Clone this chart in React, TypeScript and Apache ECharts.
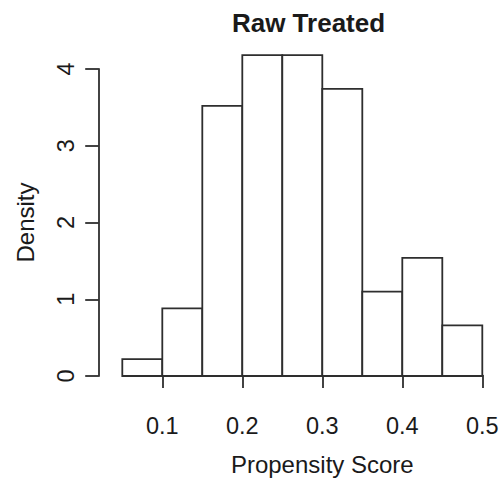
import React, { useEffect, useRef } from "react";
import * as echarts from "echarts";

const binStarts = [0.05, 0.1, 0.15, 0.2, 0.25, 0.3, 0.35, 0.4, 0.45];
const binEnds = [0.1, 0.15, 0.2, 0.25, 0.3, 0.35, 0.4, 0.45, 0.5];
const densities = [0.22, 0.88, 3.52, 4.18, 4.18, 3.74, 1.1, 1.54, 0.66];
const xTicks = [0.1, 0.2, 0.3, 0.4, 0.5];
const yTicks = [0, 1, 2, 3, 4];

const FONT = "'Liberation Sans', Arial, Helvetica, sans-serif";
const TEXT = "#1a1a1a";
const LINE = "#2e2e2e";

export default function App() {
  const ref = useRef<HTMLDivElement>(null);
  useEffect(() => {
    if (!ref.current) return;
    const chart = echarts.init(ref.current, null, { renderer: "svg" });
    const data = binStarts.map((s, i) => [s, binEnds[i], densities[i]]);
    chart.setOption({
      animation: false,
      backgroundColor: "#ffffff",
      title: {
        text: "Raw Treated",
        left: 303.5,
        top: 5,
        textAlign: "center",
        textStyle: { fontFamily: FONT, fontSize: 26, fontWeight: "bold", color: TEXT },
      },
      grid: [
        { left: 122.3, right: 19.7, top: 69, bottom: 105 },
        { left: 162.3, right: 19.7, top: 69, bottom: 105 },
      ],
      xAxis: [
        { type: "value", gridIndex: 0, min: 0.05, max: 0.5, show: false },
        {
          type: "value",
          gridIndex: 1,
          min: xTicks[0],
          max: xTicks[xTicks.length - 1],
          interval: 0.1,
          offset: 14,
          position: "bottom",
          splitLine: { show: false },
          axisLine: { show: true, lineStyle: { color: LINE, width: 1.8 } },
          axisTick: { show: true, length: 13, lineStyle: { color: LINE, width: 1.8 } },
          axisLabel: {
            margin: 25,
            fontFamily: FONT,
            fontSize: 23.5,
            color: TEXT,
            formatter: (v: number) => v.toFixed(1),
          },
          name: "Propensity Score",
          nameLocation: "middle",
          nameGap: 63,
          nameTextStyle: { fontFamily: FONT, fontSize: 24, color: TEXT },
        },
      ],
      yAxis: [
        {
          type: "value",
          gridIndex: 0,
          min: yTicks[0],
          max: yTicks[yTicks.length - 1],
          interval: 1,
          offset: 23.6,
          splitLine: { show: false },
          axisLine: { show: true, lineStyle: { color: LINE, width: 1.8 } },
          axisTick: { show: true, length: 13.5, lineStyle: { color: LINE, width: 1.8 } },
          axisLabel: {
            rotate: 90,
            margin: 21,
            fontFamily: FONT,
            fontSize: 23.5,
            color: TEXT,
          },
          name: "Density",
          nameLocation: "middle",
          nameRotate: 90,
          nameGap: 61,
          nameTextStyle: { fontFamily: FONT, fontSize: 24, color: TEXT },
        },
        { type: "value", gridIndex: 1, min: 0, max: 4, show: false },
      ],
      series: [
        {
          type: "custom",
          xAxisIndex: 0,
          yAxisIndex: 0,
          clip: false,
          data,
          encode: { x: [0, 1], y: 2 },
          renderItem: (params: any, api: any) => {
            const p0 = api.coord([api.value(0), api.value(2)]);
            const p1 = api.coord([api.value(1), 0]);
            return {
              type: "rect",
              shape: { x: p0[0], y: p0[1], width: p1[0] - p0[0], height: p1[1] - p0[1] },
              style: { fill: "#ffffff", stroke: LINE, lineWidth: 1.8 },
            };
          },
        },
      ],
    });
    return () => chart.dispose();
  }, []);
  return (
    <div
      ref={ref}
      style={{ position: "fixed", left: 0, top: 0, width: 502, height: 481, background: "#fff" }}
    />
  );
}
